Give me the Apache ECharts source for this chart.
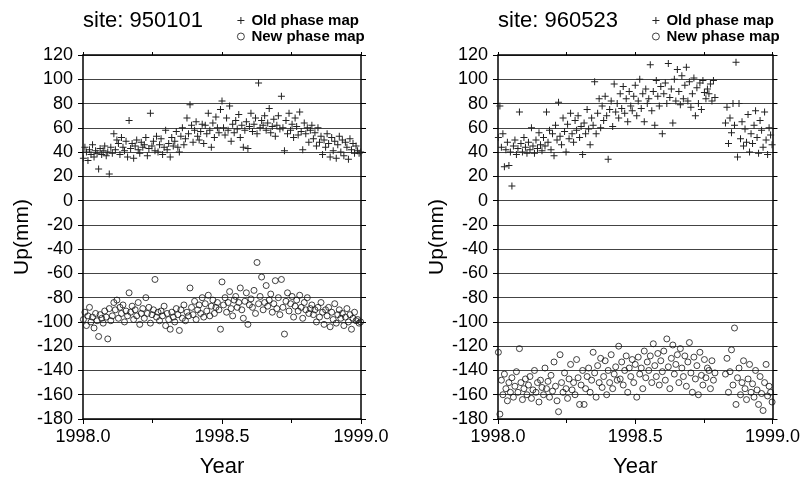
<!DOCTYPE html>
<html><head><meta charset="utf-8">
<script src="https://cdn.jsdelivr.net/npm/echarts@6/dist/echarts.min.js"></script>
<style>html,body{margin:0;padding:0;background:#fff}#c{width:803px;height:483px}</style>
</head><body><div id="c"></div>
<script>
// ---- Data ----
var titles = ['site: 950101', 'site: 960523'];
var seriesNames = ['Old phase map', 'New phase map'];
var xTicks = [1998.0, 1998.5, 1999.0];

// day-of-year of each observation, site 950101
var daysA = [1,3,5,7,9,11,13,15,17,19, 21,23,25,27,29,31,33,35,37,39, 41,43,45,47,49,51,53,55,57,59,
 61,63,65,67,69,71,73,75,77,79, 81,83,85,87,89,91,93,95,97,99, 101,103,105,107,109,111,113,115,117,119,
 121,123,125,127,129,131,133,135,137,139, 141,143,145,147,149,151,153,155,157,159, 161,163,165,167,169,171,173,175,177,179,
 181,183,185,187,189,191,193,195,197,199, 201,203,205,207,209,211,213,215,217,219, 221,223,225,227,229,231,233,235,237,239,
 241,243,245,247,249,251,253,255,257,259, 261,263,265,267,269,271,273,275,277,279, 281,283,285,287,289,291,293,295,297,299,
 301,303,305,307,309,311,313,315,317,319, 321,323,325,327,329,331,333,335,337,339, 341,343,345,347,349,351,353,355,357,359,
 361,363,365];
var oldA = [35,44,40,33,42,38,46,36,41,39, 26,43,38,41,45,37,40,22,44,39, 55,42,50,47,38,52,44,41,49,36,
 66,43,47,35,45,50,42,39,48,44, 46,52,37,43,72,45,49,41,53,40, 46,51,38,44,58,42,47,36,52,45,
 49,57,44,40,53,60,46,51,68,55, 79,62,48,58,65,53,50,57,63,47, 62,55,72,58,44,64,52,69,60,56,
 75,82,60,54,68,58,78,49,63,56, 66,59,71,52,62,44,58,65,43,61, 72,57,63,68,55,97,60,66,62,70,
 58,64,76,56,61,67,53,62,70,59, 86,60,41,66,55,72,58,63,52,68, 61,54,73,57,42,64,55,60,48,58,
 62,51,56,45,60,48,53,38,50,44, 55,47,36,52,41,49,35,46,53,40, 50,37,48,44,34,51,42,47,39,45,
 41,39,40];
var newA = [-98,-92,-103,-95,-88,-100,-96,-105,-93,-99, -112,-94,-97,-101,-91,-96,-114,-89,-99,-95, -84,-90,-82,-97,-88,-93,-86,-100,-91,-95,
 -76,-92,-87,-98,-90,-95,-84,-102,-93,-89, -97,-80,-93,-88,-101,-94,-90,-65,-96,-92, -99,-91,-95,-87,-103,-93,-98,-106,-92,-96,
 -100,-89,-94,-107,-90,-97,-86,-99,-92,-95, -72,-88,-94,-83,-98,-90,-86,-93,-80,-96, -85,-91,-78,-95,-87,-82,-93,-88,-84,-90,
 -106,-67,-86,-80,-92,-84,-75,-89,-95,-82, -79,-88,-84,-72,-90,-97,-83,-76,-102,-86, -81,-88,-74,-93,-51,-85,-79,-63,-90,-84,
 -70,-87,-82,-77,-92,-85,-66,-89,-80,-94, -65,-88,-110,-83,-76,-91,-85,-79,-96,-87, -82,-91,-78,-88,-97,-84,-90,-80,-93,-89,
 -86,-94,-90,-100,-88,-96,-84,-92,-102,-90, -95,-88,-104,-92,-98,-85,-101,-94,-90,-97, -93,-103,-96,-89,-100,-94,-106,-97,-92,-99,
 -98,-101,-100];

// day-of-year of each observation, site 960523 (gap in October)
var daysB = [1,3,5,7,9,11,13,15,17,19, 21,23,25,27,29,31,33,35,37,39, 41,43,45,47,49,51,53,55,57,59,
 61,63,65,67,69,71,73,75,77,79, 81,83,85,87,89,91,93,95,97,99, 101,103,105,107,109,111,113,115,117,119,
 121,123,125,127,129,131,133,135,137,139, 141,143,145,147,149,151,153,155,157,159, 161,163,165,167,169,171,173,175,177,179,
 181,183,185,187,189,191,193,195,197,199, 201,203,205,207,209,211,213,215,217,219, 221,223,225,227,229,231,233,235,237,239,
 241,243,245,247,249,251,253,255,257,259, 261,263,265,267,269,271,273,275,277,279, 281,283,285,287,289,
 303,305,307,309,311,313,315,317,319,321, 323,325,327,329,331,333,335,337,339,341, 343,345,347,349,351,353,355,357,359,361,
 363,365];
var oldB = [52,78,44,55,28,42,48,29,40,12, 45,50,38,43,73,47,40,52,44,39, 48,42,60,45,39,50,43,56,46,41,
 52,45,73,48,58,42,55,37,62,50, 81,53,46,68,57,40,63,51,72,55, 48,66,58,70,52,61,38,64,55,75,
 59,46,68,62,98,55,72,84,60,78, 66,86,70,34,75,82,61,96,73,80, 68,88,76,94,72,84,65,90,78,74,
 86,95,70,82,100,76,88,65,92,80, 84,112,74,90,62,99,86,78,94,55, 88,97,80,113,85,92,64,100,82,108,
 90,79,103,84,95,110,82,98,77,88, 101,70,93,80,97,75,99,89,84,92, 88,96,82,99,85,
 64,77,47,68,56,80,62,114,36,80, 51,65,45,59,48,71,40,55,47,62, 74,52,39,66,58,44,73,50,38,60,
 54,46];
var newB = [-125,-176,-148,-160,-143,-155,-165,-150,-158,-146, -162,-153,-141,-158,-122,-150,-164,-155,-147,-160, -152,-145,-163,-156,-140,-158,-150,-166,-148,-154,
 -160,-138,-155,-149,-162,-144,-157,-133,-153,-165, -174,-127,-150,-158,-142,-155,-163,-147,-135,-156, -150,-160,-131,-146,-168,-152,-140,-168,-155,-145,
 -138,-158,-148,-125,-142,-162,-136,-150,-130,-154, -145,-132,-160,-140,-150,-127,-155,-143,-137,-148, -120,-147,-133,-152,-140,-128,-158,-138,-145,-131,
 -150,-135,-162,-129,-143,-138,-155,-124,-146,-133, -140,-128,-150,-118,-136,-145,-126,-152,-132,-141, -124,-148,-114,-137,-155,-130,-119,-143,-135,-127,
 -150,-122,-138,-145,-128,-153,-133,-117,-142,-158, -129,-147,-136,-160,-125,-144,-152,-131,-146,-138, -140,-155,-132,-148,-142,
 -143,-130,-158,-141,-123,-152,-105,-168,-146,-138, -160,-150,-132,-155,-164,-147,-135,-158,-151,-162, -140,-156,-168,-145,-159,-173,-150,-135,-161,-153,
 -158,-166];

// ---- Build ----
function pairs(days, vals) {
  var out = [];
  for (var i = 0; i < vals.length; i++) out.push([1998 + (days[i] - 0.5) / 365, vals[i]]);
  return out;
}
var FONT = '"Liberation Sans", Arial, Helvetica, sans-serif';
var PLUS = 'path://M3,0H4V7H3Z M0,3H7V4H0Z';
var grids = [{left: 83, top: 55, width: 278, height: 369}, {left: 498, top: 55, width: 277, height: 369}];

var xAxes = [], yAxes = [], series = [], legends = [];
var data = [[pairs(daysA, oldA), pairs(daysA, newA)], [pairs(daysB, oldB), pairs(daysB, newB)]];
for (var g = 0; g < 2; g++) {
  xAxes.push({
    gridIndex: g, type: 'value', min: 1998, max: 1999, interval: 0.5, position: 'bottom',
    name: 'Year', nameLocation: 'middle', nameGap: 37,
    nameTextStyle: {fontFamily: FONT, fontSize: 22, color: '#000'},
    axisLine: {show: true, onZero: false, lineStyle: {color: '#000', width: 1.5}},
    axisTick: {show: true, inside: false, length: 5, lineStyle: {color: '#000', width: 1}},
    minorTick: {show: true, splitNumber: 2, length: 4, lineStyle: {color: '#000', width: 1}},
    axisLabel: {formatter: function (v) { return v.toFixed(1); }, fontFamily: FONT, fontSize: 18, color: '#000', margin: 9,
      customValues: xTicks},
    splitLine: {show: false}
  });
  xAxes.push({
    gridIndex: g, type: 'value', min: 1998, max: 1999, interval: 0.5, position: 'top',
    axisLine: {show: true, onZero: false, lineStyle: {color: '#000', width: 1.5}},
    axisTick: {show: true, inside: false, length: 3, lineStyle: {color: '#000', width: 1}},
    minorTick: {show: true, splitNumber: 2, length: 3, lineStyle: {color: '#000', width: 1}},
    axisLabel: {show: false}, splitLine: {show: false}
  });
  yAxes.push({
    gridIndex: g, type: 'value', min: -180, max: 120, interval: 20, position: 'left',
    name: 'Up(mm)', nameLocation: 'middle', nameGap: 40, nameRotate: 90,
    nameTextStyle: {fontFamily: FONT, fontSize: 21, color: '#000'},
    axisLine: {show: true, onZero: false, lineStyle: {color: '#000', width: 1.5}},
    axisTick: {show: true, inside: false, length: 5, lineStyle: {color: '#000', width: 1}},
    axisLabel: {fontFamily: FONT, fontSize: 18, color: '#000', margin: 10},
    splitLine: {show: true, lineStyle: {color: '#444', width: 1}}
  });
  yAxes.push({
    gridIndex: g, type: 'value', min: -180, max: 120, interval: 20, position: 'right',
    axisLine: {show: true, onZero: false, lineStyle: {color: '#000', width: 1.5}},
    axisTick: {show: true, inside: false, length: 5, lineStyle: {color: '#000', width: 1}},
    axisLabel: {show: false}, splitLine: {show: false}
  });
  series.push({
    type: 'scatter', name: seriesNames[0], xAxisIndex: g * 2, yAxisIndex: g * 2,
    symbol: PLUS, symbolSize: 7, silent: true,
    itemStyle: {color: '#222', opacity: 1},
    data: data[g][0]
  });
  series.push({
    type: 'scatter', name: seriesNames[1], xAxisIndex: g * 2, yAxisIndex: g * 2,
    symbol: 'circle', symbolSize: 6, silent: true,
    itemStyle: {color: 'rgba(0,0,0,0)', borderColor: '#111', borderWidth: 0.8, opacity: 1},
    data: data[g][1]
  });
  legends.push({
    left: g === 0 ? 237 : 652, top: 13, orient: 'vertical', padding: 0, itemGap: 1,
    itemWidth: 7, itemHeight: 7, selectedMode: false,
    textStyle: {fontFamily: FONT, fontSize: 15, fontWeight: 'bold', color: '#000', padding: [0, 0, 0, 2]},
    data: [
      {name: seriesNames[0], icon: PLUS, itemStyle: {color: '#222'}},
      {name: seriesNames[1], icon: 'circle', itemStyle: {color: 'rgba(0,0,0,0)', borderColor: '#111', borderWidth: 0.8}}
    ]
  });
}

var chart = echarts.init(document.getElementById('c'), null, {renderer: 'canvas'});
chart.setOption({
  animation: false,
  backgroundColor: '#fff',
  title: [
    {text: titles[0], left: 83, top: 10, padding: 0, textStyle: {fontFamily: FONT, fontSize: 22, fontWeight: 'normal', color: '#000'}},
    {text: titles[1], left: 498, top: 10, padding: 0, textStyle: {fontFamily: FONT, fontSize: 22, fontWeight: 'normal', color: '#000'}}
  ],
  legend: legends,
  grid: grids,
  xAxis: xAxes,
  yAxis: yAxes,
  series: series
});
</script></body></html>
